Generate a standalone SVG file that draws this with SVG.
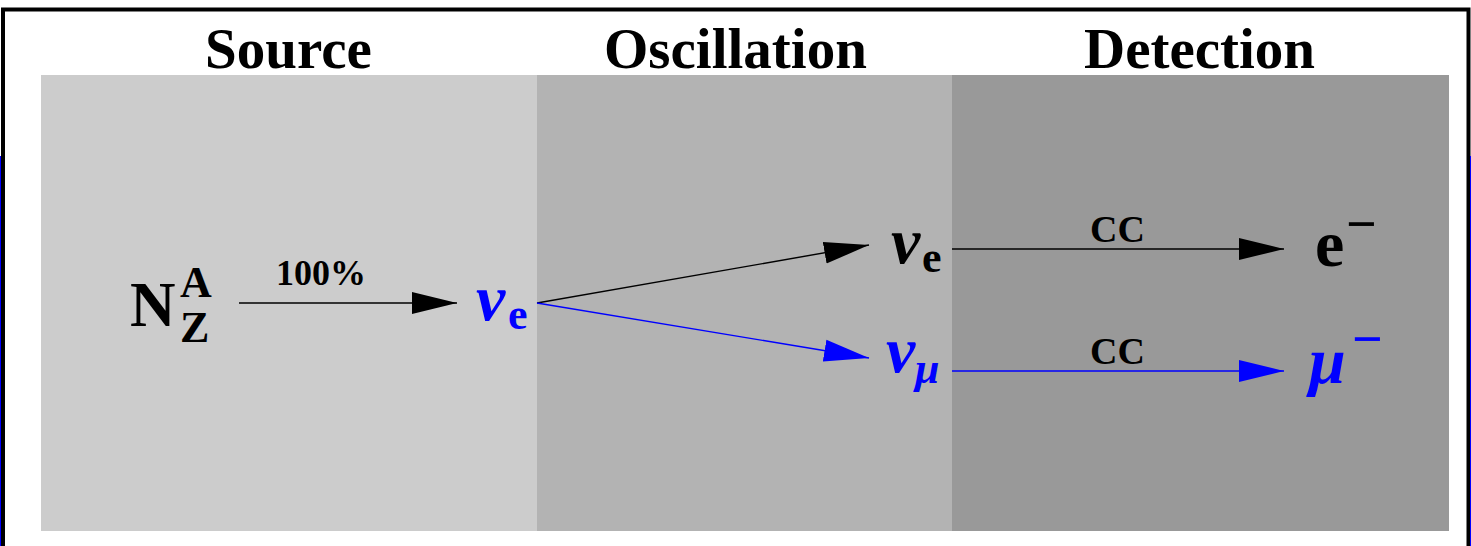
<svg xmlns="http://www.w3.org/2000/svg" width="1471" height="546" viewBox="0 0 1471 546">
<style>
.h{font-family:"Liberation Serif",serif;font-weight:bold;font-size:57px;fill:#000}
.t{font-family:"Liberation Serif",serif;font-weight:bold;fill:#000}
.g{font-family:"Liberation Serif",serif;font-weight:bold;font-style:italic}
.blue{fill:#0000ff}
.lk{stroke:#000;stroke-width:1.4;fill:none}
.lb{stroke:#0000ff;stroke-width:1.4;fill:none}
</style>
<defs>
<marker id="ak" markerUnits="userSpaceOnUse" markerWidth="46" markerHeight="24" refX="45" refY="12" orient="auto"><path d="M0,1 L45,12 L0,23 Z" fill="#000"/></marker>
<marker id="ab" markerUnits="userSpaceOnUse" markerWidth="46" markerHeight="24" refX="45" refY="12" orient="auto"><path d="M0,1 L45,12 L0,23 Z" fill="#0000ff"/></marker>
</defs>
<rect width="1471" height="546" fill="#fff"/>
<g id="frame">
<path d="M3,546 V9.5 H1468.5 V546" fill="none" stroke="#000" stroke-width="4"/>
<line x1="0.5" y1="156" x2="0.5" y2="546" stroke="#0000ff" stroke-width="1"/>
<line x1="1470.5" y1="156" x2="1470.5" y2="546" stroke="#0000ff" stroke-width="1"/>
</g>
<g id="panels">
<rect x="41" y="75" width="496" height="456" fill="#cccccc"/>
<rect x="537" y="75" width="415" height="456" fill="#b3b3b3"/>
<rect x="952" y="75" width="497" height="456" fill="#999999"/>
</g>
<g id="headings">
<text class="h" x="205" y="68">Source</text>
<text class="h" x="604" y="68">Oscillation</text>
<text class="h" x="1084" y="68">Detection</text>
</g>
<g id="connectors">
<line class="lk" x1="239" y1="303" x2="457" y2="303" marker-end="url(#ak)"/>
<line class="lk" x1="537" y1="303" x2="869" y2="245" marker-end="url(#ak)"/>
<line class="lb" x1="537" y1="303" x2="869" y2="358" marker-end="url(#ab)"/>
<line class="lk" x1="952" y1="249" x2="1284" y2="249" marker-end="url(#ak)"/>
<line class="lb" x1="952" y1="371" x2="1284" y2="371" marker-end="url(#ab)"/>
<text class="t" x="276" y="285" font-size="36">100%</text>
<text class="t" x="1090" y="242" font-size="38">CC</text>
<text class="t" x="1090" y="364" font-size="38">CC</text>
</g>
<g id="node-nucleus">
<text class="t" x="130" y="326" font-size="63">N</text>
<text class="t" x="180" y="297" font-size="44">A</text>
<text class="t" x="180" y="342" font-size="44">Z</text>
</g>
<g id="node-nue-source">
<text class="g blue" x="476" y="320" font-size="66">ν</text>
<text class="t blue" x="508" y="329" font-size="44">e</text>
</g>
<g id="node-nue-osc">
<text class="g" x="891" y="263" font-size="66">ν</text>
<text class="t" x="922" y="272" font-size="44">e</text>
</g>
<g id="node-numu-osc">
<text class="g blue" x="886" y="372" font-size="66">ν</text>
<text class="g blue" x="915" y="383" font-size="44">μ</text>
</g>
<g id="node-electron">
<text class="t" x="1315" y="266" font-size="66">e</text>
<text class="t" x="1346" y="242" font-size="54">−</text>
</g>
<g id="node-muon">
<text class="g blue" x="1309" y="383" font-size="66">μ</text>
<text class="t blue" x="1352" y="357" font-size="54">−</text>
</g>
</svg>
